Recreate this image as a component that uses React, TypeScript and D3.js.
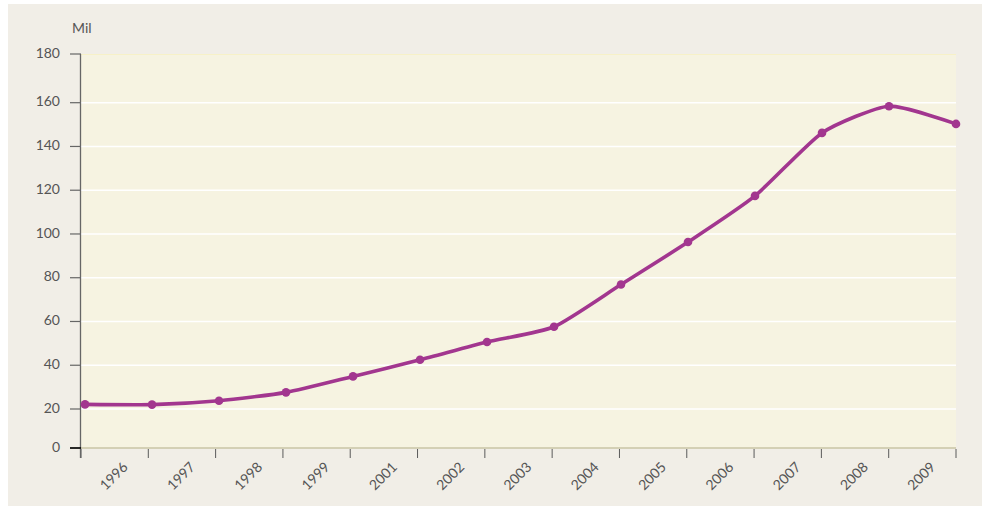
import React from "react";
import * as d3 from "d3";

// values in thousands ("Mil"), one per point
const values = [22.1, 22.0, 23.8, 27.6, 34.9, 42.5, 50.6, 57.6, 76.9, 96.3, 117.4, 146.2, 158.4, 150.3];
// x labels as printed (sit between ticks)
const yearLabels = ["1996", "1997", "1998", "1999", "2001", "2002", "2003", "2004", "2005", "2006", "2007", "2008", "2009"];
const yTicks = [0, 20, 40, 60, 80, 100, 120, 140, 160, 180];

const W = 982;
const H = 506;
const plot = { left: 81, right: 956, top: 54, bottom: 448 };
const font = "Lato, 'Open Sans', sans-serif";

const App = () => {
  // grid spacing
  const y = d3.scaleLinear().domain([20, 160]).range([409, 102.7]);
  const x = d3.scaleLinear().domain([0, values.length - 1]).range([85, 956]);
  const band = d3.scaleBand().domain(yearLabels).range([plot.left, plot.right]);

  // the 0 and 180 ticks sit on the plot edges
  const tickY = (v: number) => (v === 0 ? plot.bottom : v === 180 ? plot.top : y(v));

  const myLine = d3
    .line<number>()
    .x((d, i) => x(i))
    .y((d) => y(d))
    .curve(d3.curveCardinal.tension(0.4));

  const xTicks = [...yearLabels.map((l) => band(l) as number), plot.right];

  return (
    <svg width={W} height={H} style={{ position: "absolute", left: 0, top: 0 }}>
      <rect x={8} y={4} width={W - 8} height={H - 4} fill="#f1eee7" />
      <rect
        x={plot.left}
        y={plot.top}
        width={plot.right - plot.left}
        height={plot.bottom - plot.top}
        fill="#f6f3e1"
      />
      <line x1={plot.left} x2={plot.right} y1={plot.top + 0.5} y2={plot.top + 0.5} stroke="#f7f1c8" strokeWidth={1} />

      {/* gridlines */}
      {yTicks
        .filter((v) => v > 0 && v < 180)
        .map((v) => (
          <line key={v} x1={plot.left} x2={plot.right} y1={y(v)} y2={y(v)} stroke="#ffffff" strokeWidth={1.5} />
        ))}

      {/* x axis */}
      <line x1={plot.left} x2={plot.right} y1={plot.bottom} y2={plot.bottom} stroke="#c8c4a4" strokeWidth={1.5} />
      {xTicks.map((t, i) => (
        <line key={i} x1={t} x2={t} y1={plot.bottom + 1} y2={plot.bottom + 10} stroke="#5a5a5a" strokeWidth={1} />
      ))}
      {yearLabels.map((l) => {
        const cx = (band(l) as number) + band.bandwidth() / 2;
        const cy = 477;
        return (
          <text
            key={l}
            x={cx}
            y={cy}
            transform={`rotate(-45 ${cx} ${cy})`}
            textAnchor="middle"
            dominantBaseline="middle"
            fontFamily={font}
            fontSize={14}
            fill="#555"
          >
            {l}
          </text>
        );
      })}

      {/* y axis */}
      <line x1={plot.left - 0.5} x2={plot.left - 0.5} y1={plot.top} y2={plot.bottom + 10} stroke="#666" strokeWidth={1.3} />
      {yTicks.map((v) => (
        <g key={v}>
          <line
            x1={70}
            x2={plot.left}
            y1={tickY(v)}
            y2={tickY(v)}
            stroke={v === 0 ? "#111" : "#666"}
            strokeWidth={v === 0 ? 1.8 : 1.2}
          />
          <text
            x={60}
            y={tickY(v)}
            textAnchor="end"
            dominantBaseline="middle"
            fontFamily={font}
            fontSize={14}
            fill="#555"
          >
            {v}
          </text>
        </g>
      ))}
      <text x={72} y={33} fontFamily={font} fontSize={14} fill="#555">
        Mil
      </text>

      {/* series */}
      <path d={myLine(values) || ""} fill="none" stroke="#a2368f" strokeWidth={3.6} strokeLinejoin="round" strokeLinecap="round" />
      {values.map((v, i) => (
        <circle key={i} cx={x(i)} cy={y(v)} r={4.3} fill="#a2368f" />
      ))}
    </svg>
  );
};

export default App;
